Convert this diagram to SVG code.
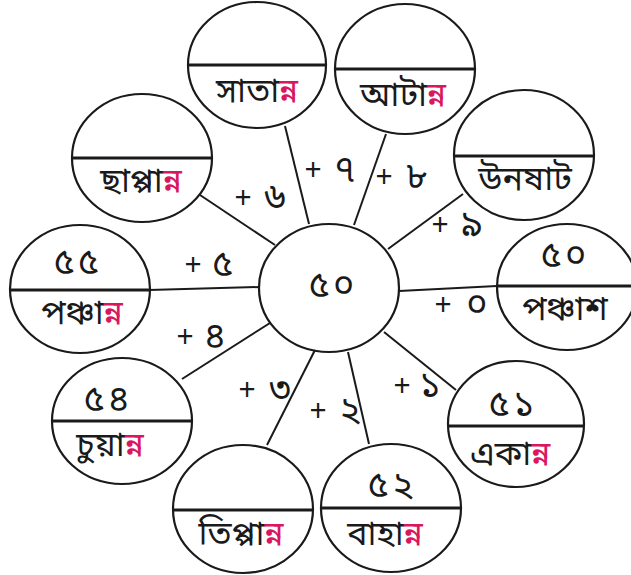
<svg xmlns="http://www.w3.org/2000/svg" width="631" height="575" viewBox="0 0 631 575">
<style>
.c{fill:none;stroke:#1a1a1a;stroke-width:2.2}
.d{stroke:#1a1a1a;stroke-width:3}
.k{stroke:#1a1a1a;stroke-width:2}
text{font-family:"Noto Sans Bengali","Lohit Bengali","FreeSans","Noto Sans",sans-serif;fill:#1a1a1a;text-anchor:middle;dominant-baseline:central}
.n{font-size:34px}
.g{font-size:36px;letter-spacing:3px}
.l{font-size:30px}
.q{font-size:36px}
.r{fill:#d9165f}
</style>
<rect width="631" height="575" fill="#ffffff"/>
<g id="connectors">
<line class="k" x1="200" y1="195" x2="275" y2="245"/>
<line class="k" x1="285" y1="126" x2="309" y2="224"/>
<line class="k" x1="386" y1="134" x2="354" y2="225"/>
<line class="k" x1="463" y1="194" x2="388" y2="249"/>
<line class="k" x1="399" y1="291" x2="497" y2="286"/>
<line class="k" x1="384" y1="332" x2="456" y2="390"/>
<line class="k" x1="348" y1="352" x2="369" y2="444"/>
<line class="k" x1="315" y1="350" x2="267" y2="445"/>
<line class="k" x1="270" y1="323" x2="182" y2="379"/>
<line class="k" x1="149" y1="290" x2="260" y2="287"/>
</g>
<g id="labels">
<text class="l" y="200"><tspan x="243">+</tspan><tspan class="q" x="275">৬</tspan></text>
<text class="l" y="172"><tspan x="313">+</tspan><tspan class="q" x="345">৭</tspan></text>
<text class="l" y="179"><tspan x="384">+</tspan><tspan class="q" x="417">৮</tspan></text>
<text class="l" y="227"><tspan x="440">+</tspan><tspan class="q" x="472">৯</tspan></text>
<text class="l" y="267"><tspan x="193">+</tspan><tspan class="q" x="223">৫</tspan></text>
<text class="l" y="307"><tspan x="443">+</tspan><tspan class="q" x="477">০</tspan></text>
<text class="l" y="339"><tspan x="185">+</tspan><tspan class="q" x="215">৪</tspan></text>
<text class="l" y="392"><tspan x="247">+</tspan><tspan class="q" x="280">৩</tspan></text>
<text class="l" y="413"><tspan x="318">+</tspan><tspan class="q" x="350">২</tspan></text>
<text class="l" y="388"><tspan x="402">+</tspan><tspan class="q" x="430">১</tspan></text>
</g>
<g id="center">
<ellipse class="c" cx="329" cy="288" rx="70" ry="64"/>
<text class="g" x="333" y="288">৫০</text>
</g>
<g id="node-57">
<ellipse class="c" cx="257" cy="65" rx="69" ry="63"/>
<line class="d" x1="188" y1="65" x2="326" y2="65"/>
<text class="n" x="257" y="93">সাতা<tspan class="r">ন্ন</tspan></text>
</g>
<g id="node-58">
<ellipse class="c" cx="405" cy="69" rx="70" ry="65"/>
<line class="d" x1="335" y1="69" x2="475" y2="69"/>
<text class="n" x="403" y="97">আটা<tspan class="r">ন্ন</tspan></text>
</g>
<g id="node-59">
<ellipse class="c" cx="524" cy="155" rx="70" ry="65"/>
<line class="d" x1="454" y1="156" x2="594" y2="156"/>
<text class="n" x="525" y="181">উনষাট</text>
</g>
<g id="node-50">
<ellipse class="c" cx="567" cy="287" rx="70" ry="63"/>
<line class="d" x1="497" y1="286" x2="637" y2="286"/>
<text class="g" x="565" y="258">৫০</text>
<text class="n" x="565" y="311">পঞ্চাশ</text>
</g>
<g id="node-51">
<ellipse class="c" cx="516" cy="424" rx="68" ry="63"/>
<line class="d" x1="448" y1="426" x2="584" y2="426"/>
<text class="g" x="513" y="407">৫১</text>
<text class="n" x="510" y="456">একা<tspan class="r">ন্ন</tspan></text>
</g>
<g id="node-52">
<ellipse class="c" cx="391" cy="508" rx="70" ry="64"/>
<line class="d" x1="321" y1="508" x2="461" y2="508"/>
<text class="g" x="392" y="488">৫২</text>
<text class="n" x="385" y="536">বাহা<tspan class="r">ন্ন</tspan></text>
</g>
<g id="node-53">
<ellipse class="c" cx="243" cy="509" rx="70" ry="64"/>
<line class="d" x1="173" y1="510" x2="313" y2="510"/>
<text class="n" x="241" y="536">তিপ্পা<tspan class="r">ন্ন</tspan></text>
</g>
<g id="node-54">
<ellipse class="c" cx="122" cy="421" rx="70" ry="63"/>
<line class="d" x1="52" y1="421" x2="192" y2="421"/>
<text class="g" x="108" y="402">৫৪</text>
<text class="n" x="110" y="447">চুয়া<tspan class="r">ন্ন</tspan></text>
</g>
<g id="node-55">
<ellipse class="c" cx="80" cy="289" rx="70" ry="64"/>
<line class="d" x1="10" y1="290" x2="150" y2="290"/>
<text class="g" x="78" y="265">৫৫</text>
<text class="n" x="82" y="315">পঞ্চা<tspan class="r">ন্ন</tspan></text>
</g>
<g id="node-56">
<ellipse class="c" cx="142" cy="158" rx="70" ry="64"/>
<line class="d" x1="72" y1="158" x2="212" y2="158"/>
<text class="n" x="141" y="183">ছাপ্পা<tspan class="r">ন্ন</tspan></text>
</g>
</svg>
